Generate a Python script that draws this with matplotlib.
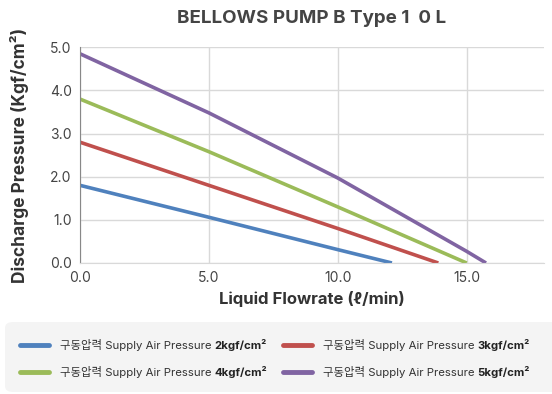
import matplotlib.pyplot as plt
from matplotlib.patches import FancyBboxPatch
from matplotlib.lines import Line2D

plt.rcParams['font.family'] = ['Inter', 'Noto Sans CJK KR', 'DejaVu Sans']

# curves (flow l/min, pressure kgf/cm2)
flow_2 = [0.0, 5.0, 10.0, 12.1]
pres_2 = [1.8, 1.06, 0.31, 0.0]
flow_3 = [0.0, 5.0, 10.0, 13.9]
pres_3 = [2.8, 1.8, 0.8, 0.0]
flow_4 = [0.0, 5.0, 10.0, 15.0]
pres_4 = [3.8, 2.58, 1.3, 0.0]
flow_5 = [0.0, 5.0, 10.0, 15.0, 15.75]
pres_5 = [4.85, 3.48, 1.97, 0.27, 0.0]

series = [(flow_2, pres_2, '#4f81bd', '2kgf/cm²'),
          (flow_3, pres_3, '#c0504d', '3kgf/cm²'),
          (flow_4, pres_4, '#9bbb59', '4kgf/cm²'),
          (flow_5, pres_5, '#8064a2', '5kgf/cm²')]

x_ticks = [0, 5, 10, 15]
y_ticks = [0, 1, 2, 3, 4, 5]

fig = plt.figure(figsize=(5.52, 3.94), dpi=100)
ax = fig.add_axes([0.145, 0.3325, 0.8405, 0.5485])

for x, y, c, lab in series:
    ax.plot(x, y, color=c, lw=2.6, solid_capstyle='butt')

ax.set_xlim(0, 18)
ax.set_ylim(0, 5.01)
ax.set_xticks(x_ticks)
ax.set_xticklabels([f'{v:.1f}' for v in x_ticks])
ax.set_yticks(y_ticks)
ax.set_yticklabels([f'{v:.1f}' for v in y_ticks])
ax.tick_params(length=0, labelsize=10, colors='#444444', pad=6)
ax.grid(True, color='#d9d9d9', lw=1)
ax.set_axisbelow(True)
for s in ['top', 'right']:
    ax.spines[s].set_visible(False)
ax.spines['left'].set_color('#888888')
ax.spines['bottom'].set_color('#d9d9d9')

ax.set_xlabel('Liquid Flowrate (ℓ/min)', fontsize=12, fontweight='bold', color='#333333', labelpad=4)
ax.set_ylabel('Discharge Pressure (Kgf/cm²)', fontsize=12.5, fontweight='bold', color='#333333', labelpad=15)
fig.text(0.565, 0.952, 'BELLOWS PUMP B Type 1  0 L', ha='center', va='center',
         fontsize=13.5, fontweight='bold', color='#444444')

# legend box
box = FancyBboxPatch((5 / 552, 2 / 394), 560 / 552, 70 / 394,
                     boxstyle='round,pad=0,rounding_size=0.015',
                     transform=fig.transFigure, facecolor='#f4f4f4', edgecolor='none')
fig.patches.append(box)

positions = [(20, 345), (283, 345), (20, 372), (283, 372)]
fig.canvas.draw()
renderer = fig.canvas.get_renderer()
for (x, y, c, lab), (px, py) in zip(series, positions):
    yf = 1 - py / 394
    fig.add_artist(Line2D([px / 552, (px + 29) / 552], [yf, yf], color=c, lw=3.5,
                          transform=fig.transFigure, solid_capstyle='round'))
    t = fig.text((px + 40) / 552, yf, '구동압력 Supply Air Pressure ', fontsize=8.2,
                 va='center', ha='left', color='#333333')
    bb = t.get_window_extent(renderer)
    fig.text(bb.x1 / 552, yf, lab, fontsize=8.2, fontweight='bold',
             va='center', ha='left', color='#222222')

fig.savefig('out.png', dpi=100)
